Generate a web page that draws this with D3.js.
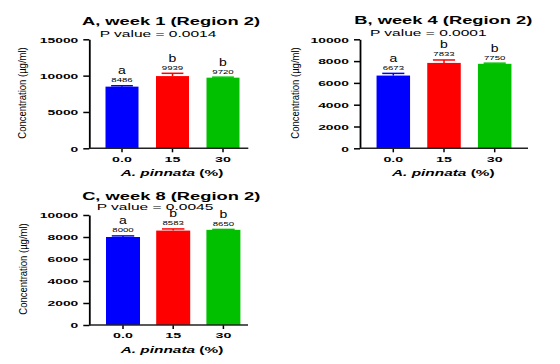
<!DOCTYPE html>
<html>
<head>
<meta charset="utf-8">
<script src="https://cdn.jsdelivr.net/npm/d3@7"></script>
<style>
  html, body { margin: 0; padding: 0; background: #fff; }
  svg { display: block; }
  text { font-family: "Liberation Sans", Arial, sans-serif; fill: #000; }
</style>
</head>
<body>
<svg id="chart" width="560" height="364"></svg>
<script>
// ---- data ----
const categories = ["0.0", "15", "30"];
const barColors = ["#0000ff", "#ff0000", "#00c000"];

const titles = ["A, week 1 (Region 2)", "B, week 4 (Region 2)", "C, week 8 (Region 2)"];
const pValues = ["P value = 0.0014", "P value = 0.0001", "P value = 0.0045"];

const week1Values = [8486, 9939, 9720];
const week1Errors = [120, 380, 70];
const week1Letters = ["a", "b", "b"];
const week1Ticks = [0, 5000, 10000, 15000];

const week4Values = [6673, 7833, 7750];
const week4Errors = [200, 270, 60];
const week4Letters = ["a", "b", "b"];
const week4Ticks = [0, 2000, 4000, 6000, 8000, 10000];

const week8Values = [8000, 8583, 8650];
const week8Errors = [100, 150, 40];
const week8Letters = ["a", "b", "b"];
const week8Ticks = [0, 2000, 4000, 6000, 8000, 10000];

const yLabel = "Concentration (µg/ml)";
const xLabelItalic = "A. pinnata";
const xLabelRest = " (%)";

// ---- layout ----
const panels = [
  { title: titles[0], p: pValues[0], values: week1Values, errors: week1Errors, letters: week1Letters, ticks: week1Ticks, yMax: 15000,
    axisX: 89.3, axisEnd: 248.3, y0: 148.3, yTop: 39.3, c0: 122, step: 50.5, bw: 33,
    titleX: 171, titleY: 25, pX: 158, pY: 36.7, xtY: 175.7, xtX: 172, ylX: 22, ylY: 93 },
  { title: titles[1], p: pValues[1], values: week4Values, errors: week4Errors, letters: week4Letters, ticks: week4Ticks, yMax: 10000,
    axisX: 360, axisEnd: 528, y0: 148.3, yTop: 39.3, c0: 393.3, step: 50.7, bw: 33.5,
    titleX: 443.3, titleY: 24, pX: 428.3, pY: 35.7, xtY: 175.7, xtX: 443.3, ylX: 295, ylY: 93 },
  { title: titles[2], p: pValues[2], values: week8Values, errors: week8Errors, letters: week8Letters, ticks: week8Ticks, yMax: 10000,
    axisX: 89.3, axisEnd: 248, y0: 325, yTop: 215, c0: 123, step: 50.2, bw: 34,
    titleX: 171.2, titleY: 200.2, pX: 155, pY: 209.8, xtY: 352.7, xtX: 172, ylX: 23, ylY: 269 }
];

const svg = d3.select("#chart");

function stretchedText(g, x, y, str, size, weight, k, anchor) {
  return g.append("text")
    .attr("transform", `translate(${x},${y}) scale(${k},1)`)
    .attr("text-anchor", anchor || "middle")
    .attr("font-size", size)
    .attr("font-weight", weight || "normal")
    .text(str);
}

panels.forEach(P => {
  const g = svg.append("g");
  const n = categories.length;
  const pI = 1 - P.bw / P.step;
  const pO = (P.c0 - P.axisX) / P.step - (1 - pI) / 2;
  const r1 = P.axisX + P.step * (n - pI + 2 * pO);

  const x = d3.scaleBand().domain(categories).range([P.axisX, r1])
    .paddingInner(pI).paddingOuter(pO);
  const y = d3.scaleLinear().domain([0, P.yMax]).range([P.y0, P.yTop]);

  // bars
  g.selectAll("rect.bar").data(P.values).join("rect")
    .attr("class", "bar")
    .attr("x", (d, i) => x(categories[i]))
    .attr("width", x.bandwidth())
    .attr("y", d => y(d))
    .attr("height", d => y(0) - y(d))
    .attr("fill", (d, i) => barColors[i]);

  // error bars (upper only)
  P.values.forEach((v, i) => {
    const cx = x(categories[i]) + x.bandwidth() / 2;
    const capW = x.bandwidth() * 0.33;
    const top = y(v + P.errors[i]);
    g.append("line").attr("x1", cx).attr("x2", cx).attr("y1", y(v)).attr("y2", top)
      .attr("stroke", barColors[i]).attr("stroke-width", 1.5);
    g.append("line").attr("x1", cx - capW).attr("x2", cx + capW).attr("y1", top).attr("y2", top)
      .attr("stroke", barColors[i]).attr("stroke-width", 1.5);
    // value label and letter
    stretchedText(g, cx, top - 3.5, String(v), 6, "normal", 1.6);
    stretchedText(g, cx, top - 11.5, P.letters[i], 10, "normal", 1.4);
  });

  // y axis
  const yAxis = d3.axisLeft(y).tickValues(P.ticks).tickSize(6).tickSizeOuter(0).tickFormat(d3.format("d"));
  const ya = g.append("g").attr("transform", `translate(${P.axisX},0)`).call(yAxis);
  ya.select(".domain").attr("stroke", "#000").attr("stroke-width", 1.8);
  ya.selectAll(".tick line").attr("stroke", "#000").attr("stroke-width", 1.5);
  ya.selectAll(".tick text")
    .attr("x", null).attr("dy", "0.35em")
    .attr("transform", "translate(-11,0) scale(1.8,1)")
    .attr("font-size", 7.7).attr("font-weight", "bold")
    .attr("font-family", "Liberation Sans, Arial, sans-serif")
    .attr("fill", "#000");

  // x axis
  const xAxis = d3.axisBottom(x).tickSize(4).tickSizeOuter(0);
  const xa = g.append("g").attr("transform", `translate(0,${P.y0})`).call(xAxis);
  xa.select(".domain").remove();
  xa.append("line").attr("x1", P.axisX).attr("x2", P.axisEnd).attr("y1", 0).attr("y2", 0)
    .attr("stroke", "#222").attr("stroke-width", 1.6);
  xa.selectAll(".tick line").attr("stroke", "#000").attr("stroke-width", 1.5);
  xa.selectAll(".tick text")
    .attr("y", null).attr("dy", null)
    .attr("transform", "translate(0,13.4) scale(1.85,1)")
    .attr("font-size", 7.7).attr("font-weight", "bold")
    .attr("font-family", "Liberation Sans, Arial, sans-serif")
    .attr("fill", "#000");

  // title and p value
  stretchedText(g, P.titleX, P.titleY, P.title, 11.6, "bold", 1.58);
  stretchedText(g, P.pX, P.pY, P.p, 9.3, "normal", 1.67);

  // x axis title
  const xt = g.append("text")
    .attr("transform", `translate(${P.xtX},${P.xtY}) scale(1.75,1)`)
    .attr("text-anchor", "middle").attr("font-size", 8.8).attr("font-weight", "bold");
  xt.append("tspan").attr("font-style", "italic").text(xLabelItalic);
  xt.append("tspan").text(xLabelRest);

  // y axis title
  g.append("text")
    .attr("transform", `translate(${P.ylX},${P.ylY}) scale(1.15,1) rotate(-90)`)
    .attr("text-anchor", "middle").attr("dy", "0.35em")
    .attr("font-size", 9.5)
    .text(yLabel);
});
</script>
</body>
</html>
